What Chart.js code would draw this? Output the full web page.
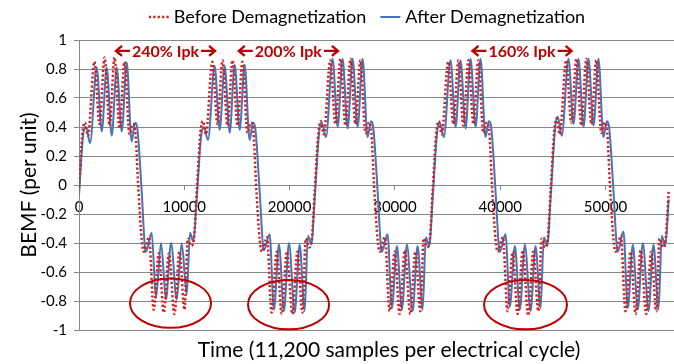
<!DOCTYPE html>
<html>
<head>
<meta charset="utf-8">
<script src="https://cdn.jsdelivr.net/npm/chart.js@4.4.0/dist/chart.umd.min.js"></script>
<style>
  html, body { margin: 0; padding: 0; background: #ffffff; }
  #wrap { width: 674px; height: 364px; }
</style>
</head>
<body>
<div id="wrap"><canvas id="bemfChart"></canvas></div>
<script>
// samples (x) and per-unit BEMF (y)
const afterX = [
  0, 400, 660, 1050, 1680, 2160, 2630, 3110, 3580, 4060, 4530, 5000, 5320, 5520, 5950, 6270, 6360, 6900, 7310, 7790, 8260, 8740, 9280, 9750, 10230, 10540, 10860,
  11200, 11600, 11860, 12250, 12880, 13360, 13830, 14310, 14780, 15260, 15730, 16200, 16520, 16720, 17150, 17470, 17560, 18100, 18510, 18990, 19460, 19940, 20480, 20950, 21430, 21740, 22060,
  22400, 22800, 23060, 23450, 24080, 24560, 25030, 25510, 25980, 26460, 26930, 27400, 27720, 27920, 28350, 28670, 28760, 29300, 29710, 30190, 30660, 31140, 31680, 32150, 32630, 32940, 33260,
  33600, 34000, 34260, 34650, 35280, 35760, 36230, 36710, 37180, 37660, 38130, 38600, 38920, 39120, 39550, 39870, 39960, 40500, 40910, 41390, 41860, 42340, 42880, 43350, 43830, 44140, 44460,
  44800, 45200, 45460, 45850, 46480, 46960, 47430, 47910, 48380, 48860, 49330, 49800, 50120, 50320, 50750, 51070, 51160, 51700, 52110, 52590, 53060, 53540, 54080, 54550, 55030, 55340, 55660,
  56000
];
const afterY = [
  -0.07, 0.35, 0.40, 0.29, 0.81, 0.37, 0.81, 0.34, 0.81, 0.37, 0.845, 0.30, 0.43, 0.40, -0.04, -0.44, -0.46, -0.33, -0.78, -0.40, -0.79, -0.40, -0.79, -0.40, -0.755, -0.33, -0.39,
  -0.07, 0.34, 0.40, 0.31, 0.82, 0.38, 0.82, 0.36, 0.83, 0.38, 0.83, 0.31, 0.43, 0.40, -0.04, -0.42, -0.45, -0.34, -0.86, -0.41, -0.87, -0.40, -0.88, -0.41, -0.87, -0.35, -0.41,
  -0.07, 0.36, 0.43, 0.33, 0.87, 0.40, 0.87, 0.39, 0.87, 0.40, 0.87, 0.33, 0.44, 0.41, -0.04, -0.43, -0.46, -0.34, -0.85, -0.42, -0.86, -0.41, -0.87, -0.42, -0.86, -0.36, -0.42,
  -0.07, 0.36, 0.43, 0.33, 0.86, 0.40, 0.86, 0.39, 0.87, 0.40, 0.87, 0.33, 0.44, 0.41, -0.04, -0.43, -0.46, -0.34, -0.84, -0.42, -0.86, -0.41, -0.87, -0.42, -0.85, -0.36, -0.42,
  -0.07, 0.38, 0.47, 0.34, 0.87, 0.42, 0.87, 0.40, 0.87, 0.41, 0.87, 0.33, 0.44, 0.41, -0.04, -0.43, -0.46, -0.32, -0.85, -0.41, -0.86, -0.40, -0.87, -0.41, -0.86, -0.35, -0.42,
  -0.10
];
const beforeX = [
  0, 330, 560, 850, 1460, 1950, 2430, 2900, 3380, 3850, 4320, 4800, 5120, 5330, 5640, 5960, 6160, 6650, 7090, 7580, 8050, 8540, 9060, 9540, 10020, 10330, 10650, 10900,
  11200, 11530, 11760, 12050, 12660, 13150, 13630, 14100, 14580, 15050, 15520, 16000, 16320, 16530, 16840, 17160, 17360, 17850, 18290, 18780, 19250, 19740, 20260, 20740, 21220, 21530, 21850, 22100,
  22400, 22730, 22960, 23250, 23860, 24350, 24830, 25300, 25780, 26250, 26720, 27200, 27520, 27730, 28040, 28360, 28560, 29050, 29490, 29980, 30450, 30940, 31460, 31940, 32420, 32730, 33050, 33300,
  33600, 33930, 34160, 34450, 35060, 35550, 36030, 36500, 36980, 37450, 37920, 38400, 38720, 38930, 39240, 39560, 39760, 40250, 40690, 41180, 41650, 42140, 42660, 43140, 43620, 43930, 44250, 44500,
  44800, 45130, 45360, 45650, 46260, 46750, 47230, 47700, 48180, 48650, 49120, 49600, 49920, 50130, 50440, 50760, 50960, 51450, 51890, 52380, 52850, 53340, 53860, 54340, 54820, 55130, 55450, 55700,
  56000
];
const beforeY = [
  -0.02, 0.36, 0.43, 0.34, 0.85, 0.42, 0.88, 0.41, 0.88, 0.39, 0.85, 0.35, 0.42, 0.38, -0.03, -0.38, -0.46, -0.36, -0.86, -0.47, -0.88, -0.47, -0.89, -0.46, -0.86, -0.37, -0.42, -0.38,
  -0.02, 0.36, 0.44, 0.35, 0.85, 0.42, 0.86, 0.41, 0.86, 0.41, 0.85, 0.36, 0.43, 0.39, -0.03, -0.38, -0.46, -0.36, -0.88, -0.46, -0.89, -0.46, -0.89, -0.46, -0.88, -0.37, -0.43, -0.38,
  -0.02, 0.36, 0.44, 0.35, 0.86, 0.42, 0.87, 0.41, 0.87, 0.42, 0.86, 0.36, 0.43, 0.39, -0.03, -0.38, -0.46, -0.36, -0.87, -0.46, -0.89, -0.45, -0.89, -0.46, -0.87, -0.37, -0.43, -0.38,
  -0.02, 0.36, 0.44, 0.35, 0.85, 0.42, 0.86, 0.41, 0.86, 0.42, 0.86, 0.36, 0.43, 0.39, -0.03, -0.38, -0.46, -0.36, -0.87, -0.46, -0.89, -0.45, -0.90, -0.46, -0.87, -0.37, -0.43, -0.38,
  -0.02, 0.37, 0.46, 0.35, 0.86, 0.43, 0.87, 0.41, 0.87, 0.42, 0.86, 0.36, 0.43, 0.39, -0.03, -0.38, -0.46, -0.35, -0.87, -0.46, -0.89, -0.45, -0.89, -0.46, -0.87, -0.37, -0.43, -0.38,
  -0.04
];

const xTickValues = [0, 10000, 20000, 30000, 40000, 50000];

// current level notes and the circled spots (in data units)
const noteLabels = ['240% Ipk', '200% Ipk', '160% Ipk'];
const noteX = [8215, 19880, 42070];
const noteY = 0.925;
const circleX = [8690, 19900, 42400];
const circleY = [-0.815, -0.825, -0.825];
const circleHalfW = [3850, 3850, 3940];
const circleHalfH = 0.17;

const redColor = '#d42020';
const blueColor = '#4676b8';
const noteColor = '#c00000';
const gridColor = '#878787';
const fontName = 'Lato';

const toPoints = (xs, ys) => xs.map((x, i) => ({x: x, y: ys[i]}));

// arrows either side of the note text
function drawArrow(ctx, x0, y0, dir) {
    const len = 14;
    const tip = x0 + dir * len;
    ctx.beginPath();
    ctx.moveTo(x0, y0);
    ctx.lineTo(tip, y0);
    ctx.moveTo(tip - dir * 6, y0 - 5);
    ctx.lineTo(tip, y0);
    ctx.lineTo(tip - dir * 6, y0 + 5);
    ctx.stroke();
}

const notesPlugin = {
    id: 'bemfNotes',
    afterDatasetsDraw(chart) {
        const {ctx, scales} = chart;
        const xs = scales.x, ys = scales.y;
        ctx.save();
        ctx.strokeStyle = noteColor;
        ctx.lineWidth = 2;
        circleX.forEach((cx, i) => {
            const px = xs.getPixelForValue(cx);
            const py = ys.getPixelForValue(circleY[i]);
            const rx = xs.getPixelForValue(cx + circleHalfW[i]) - px;
            const ry = py - ys.getPixelForValue(circleY[i] + circleHalfH);
            ctx.beginPath();
            ctx.ellipse(px, py, rx, ry, 0, 0, Math.PI * 2);
            ctx.stroke();
        });

        ctx.font = 'bold 16px ' + fontName;
        ctx.fillStyle = noteColor;
        ctx.textAlign = 'center';
        ctx.textBaseline = 'middle';
        ctx.lineWidth = 2.4;
        noteLabels.forEach((label, i) => {
            const px = xs.getPixelForValue(noteX[i]);
            const py = ys.getPixelForValue(noteY);
            const w = ctx.measureText(label).width;
            ctx.fillText(label, px, py + 1);
            drawArrow(ctx, px - w / 2 - 2, py, -1);
            drawArrow(ctx, px + w / 2 + 2, py, 1);
        });
        ctx.restore();
    },
    afterDraw(chart) {
        const {ctx} = chart;
        ctx.save();
        // legend
        ctx.font = '18px ' + fontName;
        ctx.textBaseline = 'middle';
        ctx.textAlign = 'left';
        ctx.fillStyle = '#000000';
        const sets = chart.data.datasets;
        const sampleW = 20, gap = 5, spacing = 14;
        const widths = sets.map(d => ctx.measureText(d.label).width);
        const total = widths.reduce((a, w) => a + sampleW + gap + w, 0) + spacing;
        let lx = 367 - total / 2;
        const ly = 17;
        sets.forEach((d, i) => {
            ctx.beginPath();
            ctx.strokeStyle = d.borderColor;
            ctx.lineWidth = d.borderWidth;
            ctx.setLineDash(d.borderDash || []);
            ctx.moveTo(lx, ly);
            ctx.lineTo(lx + sampleW, ly);
            ctx.stroke();
            ctx.setLineDash([]);
            ctx.fillText(d.label, lx + sampleW + gap, ly);
            lx += sampleW + gap + widths[i] + spacing;
        });

        // horizontal axis title
        ctx.font = '21px ' + fontName;
        ctx.textAlign = 'center';
        ctx.fillText('Time (11,200 samples per electrical cycle)', 389, 350);
        ctx.restore();
    }
};

const bemfChart = new Chart(document.getElementById('bemfChart'), {
    type: 'line',
    data: {
        datasets: [{
            label: 'Before Demagnetization',
            data: toPoints(beforeX, beforeY),
            borderColor: redColor,
            borderWidth: 2.5,
            borderDash: [2.2, 2.2],
            pointRadius: 0,
            cubicInterpolationMode: 'monotone'
        }, {
            label: 'After Demagnetization',
            data: toPoints(afterX, afterY),
            borderColor: blueColor,
            borderWidth: 2,
            pointRadius: 0,
            cubicInterpolationMode: 'monotone'
        }]
    },
    options: {
        responsive: true,
        maintainAspectRatio: false,
        animation: false,
        layout: {
            padding: {top: 40, bottom: 34, left: 0, right: 0}
        },
        plugins: {
            legend: {display: false},
            tooltip: {enabled: false}
        },
        scales: {
            x: {
                type: 'linear',
                position: {y: 0},
                min: 0,
                max: 56500,
                afterBuildTicks: (scale) => {
                    scale.ticks = xTickValues.map(v => ({value: v}));
                },
                grid: {
                    drawOnChartArea: false,
                    drawTicks: true,
                    tickLength: 5,
                    color: gridColor
                },
                border: {display: false},
                ticks: {
                    padding: 8,
                    maxRotation: 0,
                    color: '#000000',
                    font: {family: fontName, size: 15},
                    callback: (v) => String(v)
                }
            },
            y: {
                min: -1,
                max: 1,
                afterFit: (scale) => { scale.width = 79; },
                grid: {
                    color: gridColor,
                    tickLength: 5
                },
                border: {display: true, color: gridColor},
                ticks: {
                    stepSize: 0.2,
                    padding: 7,
                    color: '#000000',
                    font: {family: fontName, size: 15},
                    callback: (v) => String(Math.round(v * 10) / 10)
                },
                title: {
                    display: true,
                    text: 'BEMF (per unit)',
                    color: '#000000',
                    font: {family: fontName, size: 21},
                    padding: {top: 17, bottom: 0}
                }
            }
        }
    },
    plugins: [notesPlugin]
});
</script>
</body>
</html>
